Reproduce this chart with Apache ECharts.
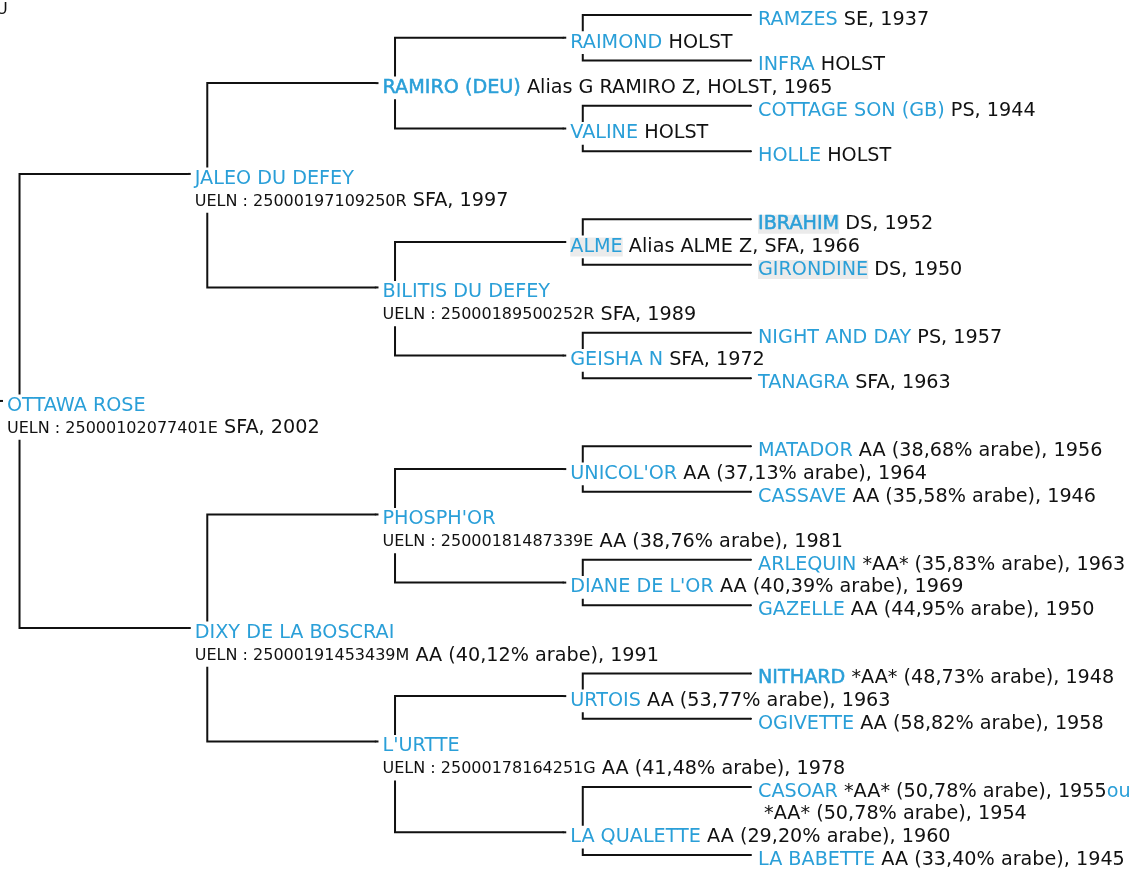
<!DOCTYPE html>
<html>
<head>
<meta charset="utf-8">
<script src="https://cdn.jsdelivr.net/npm/echarts@6/dist/echarts.min.js"></script>
<style>
html,body{margin:0;padding:0;background:#fff;}
#chart{width:1134px;height:870px;}
</style>
</head>
<body>
<div id="chart"></div>
<script>
// Pedigree in ahnentafel order: 1 = subject, 2n = sire of n, 2n+1 = dam of n
const names = [
  'OTTAWA ROSE',
  'JALEO DU DEFEY', 'DIXY DE LA BOSCRAI',
  'RAMIRO (DEU)', 'BILITIS DU DEFEY', "PHOSPH'OR", "L'URTTE",
  'RAIMOND', 'VALINE', 'ALME', 'GEISHA N', "UNICOL'OR", "DIANE DE L'OR", 'URTOIS', 'LA QUALETTE',
  'RAMZES', 'INFRA', 'COTTAGE SON (GB)', 'HOLLE', 'IBRAHIM', 'GIRONDINE', 'NIGHT AND DAY', 'TANAGRA',
  'MATADOR', 'CASSAVE', 'ARLEQUIN', 'GAZELLE', 'NITHARD', 'OGIVETTE', 'CASOAR', 'LA BABETTE'
];
const infos = [
  'SFA, 2002',
  'SFA, 1997', 'AA (40,12% arabe), 1991',
  'Alias G RAMIRO Z, HOLST, 1965', 'SFA, 1989', 'AA (38,76% arabe), 1981', 'AA (41,48% arabe), 1978',
  'HOLST', 'HOLST', 'Alias ALME Z, SFA, 1966', 'SFA, 1972', 'AA (37,13% arabe), 1964',
  'AA (40,39% arabe), 1969', 'AA (53,77% arabe), 1963', 'AA (29,20% arabe), 1960',
  'SE, 1937', 'HOLST', 'PS, 1944', 'HOLST', 'DS, 1952', 'DS, 1950', 'PS, 1957', 'SFA, 1963',
  'AA (38,68% arabe), 1956', 'AA (35,58% arabe), 1946', '*AA* (35,83% arabe), 1963', 'AA (44,95% arabe), 1950',
  '*AA* (48,73% arabe), 1948', 'AA (58,82% arabe), 1958', '*AA* (50,78% arabe), 1955', 'AA (33,40% arabe), 1945'
];
const uelns = [
  'UELN : 25000102077401E',
  'UELN : 25000197109250R', 'UELN : 25000191453439M',
  '', 'UELN : 25000189500252R', 'UELN : 25000181487339E', 'UELN : 25000178164251G'
];
const boldNames = ['RAMIRO (DEU)', 'IBRAHIM', 'NITHARD'];
const shadedNames = ['ALME', 'IBRAHIM', 'GIRONDINE'];
const altLinkWord = 'ou';
const alternates = { 'CASOAR': ' *AA* (50,78% arabe), 1954' };
const cornerText = 'U';

const BLUE = '#2a9fd8';
const INK = '#111111';
const FONT = 'DejaVu Sans';
const FORK = 0.104;   // fork position of the elbow connectors, as a share of a generation step

const N = names.length;
function generation(i) { return Math.floor(Math.log2(i)); }
function lineCount(i) { return (uelns[i - 1] || alternates[names[i - 1]]) ? 2 : 1; }

// rows: in-order listing (sire branch, horse, dam branch), one row per text line
const rows = [];
let rowCounter = 0;
(function walk(i) {
  if (2 * i <= N) walk(2 * i);
  rows[i] = rowCounter;
  rowCounter += lineCount(i);
  if (2 * i + 1 <= N) walk(2 * i + 1);
})(1);
const lastRow = rowCounter - 1;

const nodeData = names.map(function (n, k) {
  const i = k + 1;
  return { name: n, value: [generation(i), rows[i]], idx: i };
});

const edgeData = [];
for (let i = 1; 2 * i + 1 <= N; i++) {
  const g = generation(i);
  const a = rows[2 * i], b = rows[2 * i + 1], r = rows[i];
  edgeData.push({ coords: [[g, r], [g + FORK, r]] });
  edgeData.push({ coords: [[g + 1, a], [g + FORK, a], [g + FORK, b], [g + 1, b]] });
}

function formatLabel(p) {
  const i = p.data.idx;
  const name = names[i - 1];
  const bold = boldNames.indexOf(name) >= 0;
  const shaded = shadedNames.indexOf(name) >= 0;
  const style = bold && shaded ? 'nbh' : bold ? 'nb' : shaded ? 'nh' : 'n';
  const nm = '{' + style + '|' + name + '}';
  const ueln = uelns[i - 1];
  if (ueln) {
    return nm + '\n{u|' + ueln + '}{t| ' + infos[i - 1] + '}';
  }
  let s = nm + '{t| ' + infos[i - 1] + '}';
  if (alternates[name]) {
    s += '{n|' + altLinkWord + '}\n{t|' + alternates[name] + '}';
  }
  return s;
}

const FS = 19.2;
const LH = 22.7;
const rich = {
  n:   { color: BLUE, fontFamily: FONT, fontSize: FS, lineHeight: LH },
  nb:  { color: BLUE, fontFamily: FONT, fontSize: FS, lineHeight: LH, textBorderColor: BLUE, textBorderWidth: 0.5 },
  nh:  { color: BLUE, fontFamily: FONT, fontSize: FS, lineHeight: LH, backgroundColor: '#ebebeb' },
  nbh: { color: BLUE, fontFamily: FONT, fontSize: FS, lineHeight: LH, backgroundColor: '#ebebeb', textBorderColor: BLUE, textBorderWidth: 0.5 },
  t:   { color: INK, fontFamily: FONT, fontSize: FS, lineHeight: LH },
  u:   { color: INK, fontFamily: FONT, fontSize: 16, lineHeight: LH }
};

const chart = echarts.init(document.getElementById('chart'), null, { renderer: 'canvas' });
chart.setOption({
  animation: false,
  backgroundColor: '#ffffff',
  title: {
    text: cornerText,
    left: -9, top: -3,
    textStyle: { fontFamily: FONT, fontSize: 16, fontWeight: 'normal', color: INK }
  },
  grid: { left: 0, top: 15, width: 751, height: 840, containLabel: false },
  xAxis: { type: 'value', min: 0, max: generation(N), show: false },
  yAxis: { type: 'value', min: 0, max: lastRow, inverse: true, show: false },
  series: [
    {
      type: 'lines',
      coordinateSystem: 'cartesian2d',
      polyline: true,
      silent: true,
      z: 2,
      lineStyle: { color: INK, width: 2, opacity: 1, curveness: 0 },
      data: edgeData
    },
    {
      type: 'scatter',
      silent: true,
      z: 5,
      symbol: 'circle',
      symbolSize: 2,
      itemStyle: { color: INK, opacity: 1 },
      emphasis: { disabled: true },
      label: {
        show: true,
        opacity: 1,
        position: [4, -5.5],
        align: 'left',
        verticalAlign: 'top',
        backgroundColor: '#ffffff',
        padding: [0, 2, 0, 4],
        fontFamily: FONT,
        fontSize: FS,
        lineHeight: LH,
        color: INK,
        formatter: formatLabel,
        rich: rich
      },
      data: nodeData
    }
  ]
});
</script>
</body>
</html>
